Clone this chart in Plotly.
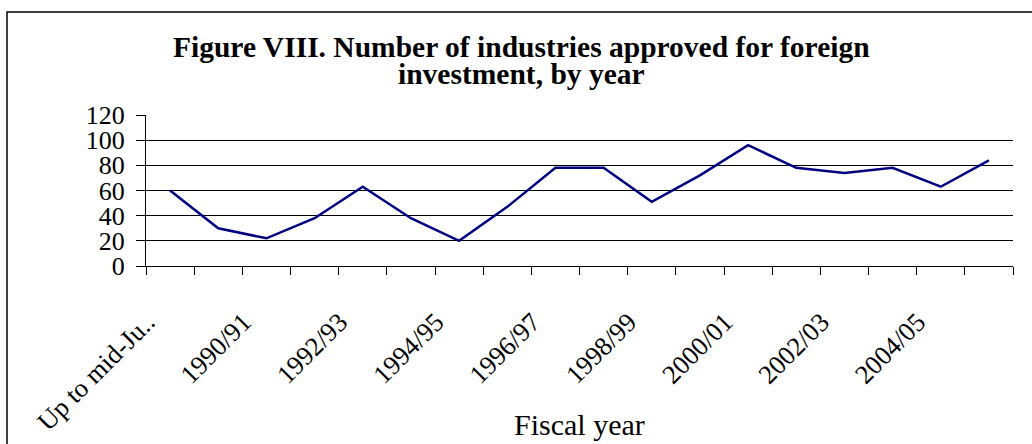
import plotly.graph_objects as go

categories = ["Up to mid-Ju..", "1989/90", "1990/91", "1991/92", "1992/93", "1993/94",
              "1994/95", "1995/96", "1996/97", "1997/98", "1998/99", "1999/00",
              "2000/01", "2001/02", "2002/03", "2003/04", "2004/05", "2005/06"]
industries = [60, 30, 22, 38, 63, 38, 20, 47, 78, 78, 51, 72, 96, 78, 74, 78, 63, 84]
y_ticks = [0, 20, 40, 60, 80, 100, 120]
title_lines = ["Figure VIII. Number of industries approved for foreign",
               "investment, by year"]
x_title = "Fiscal year"

FONT = "Liberation Serif, Times New Roman, serif"
W, H = 1032, 444
L, R, T, B = 146, 19, 115, 178
pw, ph = W - L - R, H - T - B


def px_x(px):
    return (px - L) / pw


def px_y(py):
    return (H - B - py) / ph


n = len(categories)
positions = list(range(n))
label_pos = positions[::2]
label_txt = categories[::2]
boundaries = [i - 0.5 for i in range(n + 1)]

fig = go.Figure()
fig.add_trace(go.Scatter(
    x=positions, y=industries, mode="lines",
    line=dict(color="#000080", width=2.5),
    customdata=categories,
    hovertemplate="%{customdata}: %{y}<extra></extra>",
))

annotations = [
    dict(text="<b>%s</b>" % title_lines[0], xref="paper", yref="paper",
         x=px_x(521), y=px_y(47), xanchor="center", yanchor="middle",
         showarrow=False, font=dict(family=FONT, size=29.5, color="black")),
    dict(text="<b>%s</b>" % title_lines[1], xref="paper", yref="paper",
         x=px_x(521), y=px_y(74), xanchor="center", yanchor="middle",
         showarrow=False, font=dict(family=FONT, size=29.5, color="black")),
    dict(text=x_title, xref="paper", yref="paper",
         x=0.5, y=px_y(424), xanchor="center", yanchor="middle",
         showarrow=False, font=dict(family=FONT, size=30, color="black")),
]

fig.update_layout(
    width=W, height=H,
    margin=dict(l=L, r=R, t=T, b=B, autoexpand=False),
    paper_bgcolor="white", plot_bgcolor="white",
    showlegend=False,
    font=dict(family=FONT, color="black"),
    xaxis=dict(
        range=[-0.5, n - 0.5],
        tickmode="array", tickvals=label_pos, ticktext=label_txt,
        tickangle=-45,
        ticks="", ticklen=0,
        minor=dict(tickmode="array", tickvals=boundaries, ticks="outside",
                   ticklen=8, tickcolor="black", tickwidth=1, showgrid=False),
        ticklabelstandoff=29, ticklabelshift=-23,
        showline=True, linecolor="black", linewidth=1,
        showgrid=False, zeroline=False,
        tickfont=dict(family=FONT, size=26.5, color="black"),
        automargin=False, fixedrange=True,
    ),
    yaxis=dict(
        range=[0, 120], tickmode="array", tickvals=y_ticks,
        ticks="outside", ticklen=9, tickcolor="black", tickwidth=1,
        ticklabelstandoff=6,
        showline=True, linecolor="black", linewidth=1,
        showgrid=True, gridcolor="black", gridwidth=1,
        zeroline=False,
        tickfont=dict(family=FONT, size=26, color="black"),
        automargin=False, fixedrange=True,
    ),
    shapes=[dict(
        type="rect", xref="paper", yref="paper",
        x0=px_x(7), x1=px_x(1045), y0=px_y(460), y1=px_y(12),
        line=dict(color="black", width=1.5), fillcolor="rgba(0,0,0,0)",
        layer="below",
    )],
    annotations=annotations,
)

fig.write_html("out.html",
               config={"displayModeBar": False},
               post_script="document.body.style.margin='0';")
